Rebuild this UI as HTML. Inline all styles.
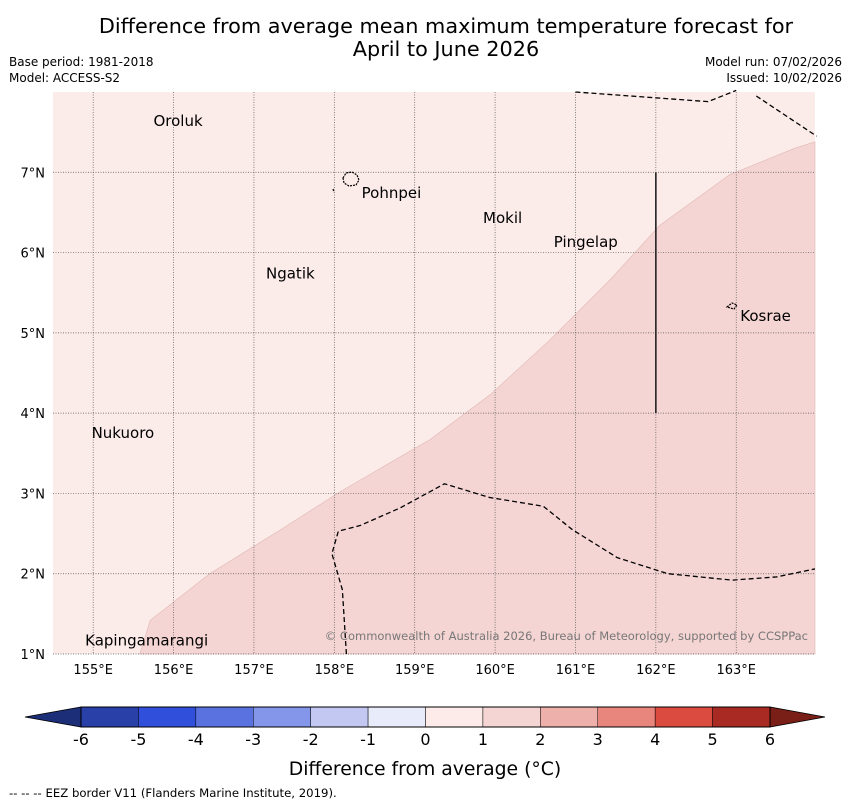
<!DOCTYPE html>
<html><head><meta charset="utf-8"><style>
body{margin:0;background:#fff;}
svg{display:block;font-family:"DejaVu Sans","Liberation Sans",sans-serif;}
</style></head><body>
<svg id="chart" width="850" height="804" viewBox="0 0 850 804">
<text x="446" y="33" font-size="20.8" text-anchor="middle">Difference from average mean maximum temperature forecast for</text>
<text x="446" y="56" font-size="20.8" text-anchor="middle">April to June 2026</text>
<text x="9" y="66" font-size="12">Base period: 1981-2018</text>
<text x="9" y="82" font-size="12">Model: ACCESS-S2</text>
<text x="842" y="66" font-size="12" text-anchor="end">Model run: 07/02/2026</text>
<text x="842" y="82" font-size="12" text-anchor="end">Issued: 10/02/2026</text>
<g id="map"></g>
<g id="cbar"></g>
<text x="425" y="775" font-size="18.8" text-anchor="middle">Difference from average (°C)</text>
<text x="9" y="797" font-size="11.7">--  --  -- EEZ border V11 (Flanders Marine Institute, 2019).</text>
</svg>
<script>
const lonTicks=[155,156,157,158,159,160,161,162,163];
const latTicks=[1,2,3,4,5,6,7];
const anomBoundary=[[155.58,1.0],[155.71,1.42],[156.45,2.0],[157.32,2.54],[158.07,3.02],[159.19,3.67],[159.94,4.23],[160.68,4.91],[161.43,5.66],[162.05,6.34],[162.92,6.97],[163.73,7.30],[163.98,7.38]];
const eezTop=[[161,8],[162.65,7.88],[163.0,8.02]];
const eezTop2=[[163.25,7.95],[164.0,7.45]];
const eezBottom=[[158.15,1],[158.1,1.8],[157.97,2.25],[158.05,2.53],[158.32,2.6],[158.82,2.82],[159.37,3.12],[159.93,2.95],[160.6,2.84],[160.96,2.55],[161.52,2.2],[162.15,2.0],[162.95,1.92],[163.5,1.96],[163.98,2.06]];
const places=[["Oroluk",155.75,7.64],["Pohnpei",158.34,6.74],["Mokil",159.85,6.43],["Pingelap",160.73,6.13],["Ngatik",157.15,5.74],["Kosrae",163.05,5.21],["Nukuoro",154.98,3.75],["Kapingamarangi",154.9,1.17]];
const cbValues=[-6,-5,-4,-3,-2,-1,0,1,2,3,4,5,6];
const cbColors=["#2940a8","#3050dc","#5a72e0","#8496ea","#c2c8f2","#e8ebfa","#fcebe9","#f5d5d3","#eeb0ab","#e8857c","#dc4b40","#a82a22"];
const NS="http://www.w3.org/2000/svg";
const X0=53,X1=815,Y0=92,Y1=654,LON0=154.5,LON1=163.98,LAT0=1,LAT1=8;
const xs=l=>X0+(l-LON0)/(LON1-LON0)*(X1-X0);
const ys=l=>Y1-(l-LAT0)/(LAT1-LAT0)*(Y1-Y0);
function mk(t,a,p){const e=document.createElementNS(NS,t);for(const k in a)e.setAttribute(k,a[k]);p.appendChild(e);return e;}
const map=document.getElementById('map');
let r=mk('rect',{x:X0,y:Y0,width:X1-X0,height:Y1-Y0,fill:'#fbebe9'},map);


let last=anomBoundary[anomBoundary.length-1];
let d='M'+anomBoundary.map(p=>xs(p[0])+','+ys(p[1])).join(' L')+` L${X1},${ys(last[1])} L${X1},${Y1} Z`;
let poly=mk('path',{d:d,fill:'#f5d5d3',stroke:'#dfb8b4','stroke-width':0.6},map);


lonTicks.forEach(l=>{let x=xs(l);
 let g=mk('line',{x1:x,x2:x,y1:Y0,y2:Y1,stroke:'#555','stroke-width':0.7,'stroke-dasharray':'1,1.5'},map);
 
 let t=mk('text',{x:x,y:674,'font-size':13,'text-anchor':'middle'},map);t.textContent=l+'°E';
 });
latTicks.forEach(l=>{let y=ys(l);
 let g=mk('line',{x1:X0,x2:X1,y1:y,y2:y,stroke:'#555','stroke-width':0.7,'stroke-dasharray':'1,1.5'},map);
 
 let t=mk('text',{x:45,y:y+5,'font-size':13,'text-anchor':'end'},map);t.textContent=l+'°N';
 });
[eezTop,eezTop2,eezBottom].forEach(s=>{let p=mk('path',{d:'M'+s.map(q=>xs(q[0])+','+ys(q[1])).join(' L'),fill:'none',stroke:'#000','stroke-width':1.3,'stroke-dasharray':'5,3'},map);
 });
let vl=mk('line',{x1:xs(162),x2:xs(162),y1:ys(7),y2:ys(4),stroke:'#222','stroke-width':1.6},map);

let isl=mk('path',{d:'M343,178 l3,-5 l6,-1 l5,3 l2,5 l-3,5 l-7,1 l-5,-3 z M333,189 l1,3 M727,307 l5,-4 l5,2 l-3,4 z',fill:'none',stroke:'#000','stroke-width':1.2,'stroke-dasharray':'2,1'},map);

places.forEach(p=>{let t=mk('text',{x:xs(p[1]),y:ys(p[2])+5,'font-size':15},map);t.textContent=p[0];
 });
let cp=mk('text',{x:808,y:640,'font-size':11.5,'text-anchor':'end',fill:'#777'},map);cp.textContent='© Commonwealth of Australia 2026, Bureau of Meteorology, supported by CCSPPac';

const cb=document.getElementById('cbar');
const CX0=81,CX1=770,CY0=707,CY1=727;
const cx=v=>CX0+(v-cbValues[0])/(cbValues[cbValues.length-1]-cbValues[0])*(CX1-CX0);
let lt=mk('polygon',{points:`25,717 ${CX0},${CY0} ${CX0},${CY1}`,fill:'#1c2e78',stroke:'#000','stroke-width':0.8},cb);

let rt=mk('polygon',{points:`825,717 ${CX1},${CY0} ${CX1},${CY1}`,fill:'#7a1e18',stroke:'#000','stroke-width':0.8},cb);

cbColors.forEach((c,i)=>{let a=cx(cbValues[i]),b=cx(cbValues[i+1]);
 let s=mk('rect',{x:a,y:CY0,width:b-a,height:CY1-CY0,fill:c,stroke:'#000','stroke-width':0.5},cb);
 });
mk('rect',{x:CX0,y:CY0,width:CX1-CX0,height:CY1-CY0,fill:'none',stroke:'#000','stroke-width':1},cb);
cbValues.forEach(v=>{let t=mk('text',{x:cx(v),y:745,'font-size':16,'text-anchor':'middle'},cb);t.textContent=v;
 });
</script>
</body></html>
